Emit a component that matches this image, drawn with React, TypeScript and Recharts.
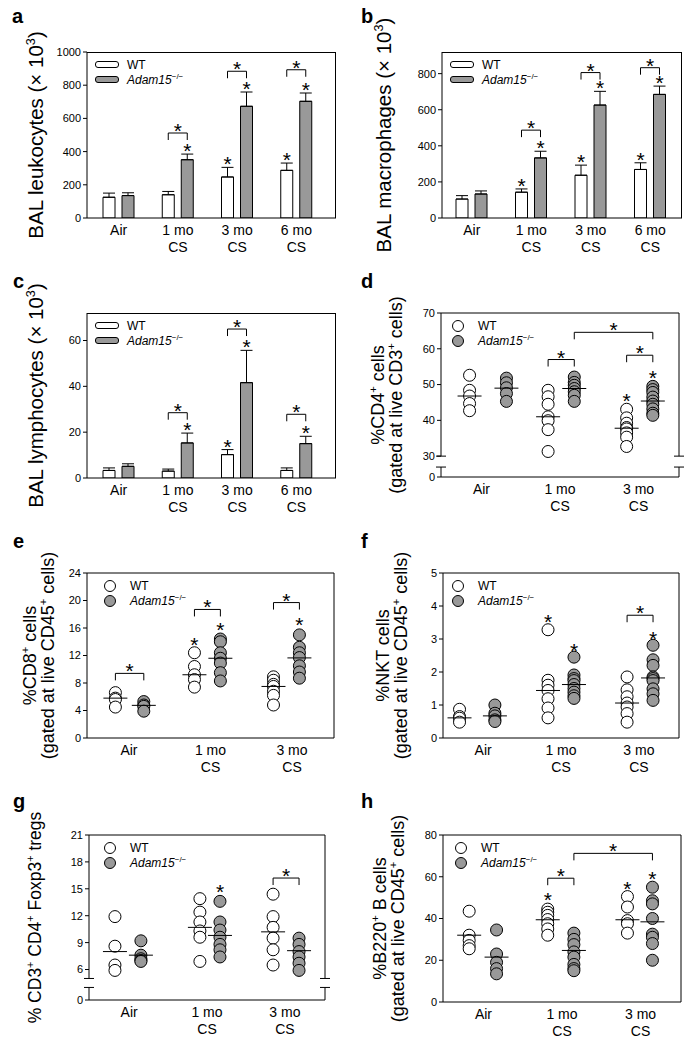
import React from 'react';
import {
  ComposedChart, Bar, ErrorBar, LabelList, Scatter,
  XAxis, YAxis, ReferenceLine, Legend,
} from 'recharts';

const FONT = 'Arial, "Liberation Sans", Helvetica, sans-serif';
const GREY = '#999999';

// ============ CATEGORIES ============
const barGroups = ['Air', '1 mo\nCS', '3 mo\nCS', '6 mo\nCS'];
const dotGroups = ['Air', '1 mo\nCS', '3 mo\nCS'];
const dotTicks = [17, 50, 83];

// ============ a: BAL leukocytes ============
const leukWT = [125, 140, 247, 287];
const leukWTErr = [25, 20, 58, 44];
const leukKO = [135, 351, 673, 703];
const leukKOErr = [17, 34, 86, 50];
const leukWTStar = [false, false, true, true];
const leukKOStar = [false, true, true, true];
const leukBracket = [null, 512, 884, 893];

// ============ b: BAL macrophages ============
const macWT = [105, 143, 237, 269];
const macWTErr = [19, 18, 56, 37];
const macKO = [133, 333, 626, 685];
const macKOErr = [17, 37, 76, 46];
const macWTStar = [false, true, true, true];
const macKOStar = [false, true, true, true];
const macBracket = [null, 487, 806, 833];

// ============ c: BAL lymphocytes ============
const lymWT = [3.3, 3.0, 10.2, 3.3];
const lymWTErr = [1.1, 0.9, 2.2, 1.1];
const lymKO = [5.1, 15.3, 41.6, 15.0];
const lymKOErr = [1.1, 4.3, 14.1, 3.2];
const lymWTStar = [false, false, true, false];
const lymKOStar = [false, true, true, true];
const lymBracket = [null, 28.5, 65, 27.8];

// ============ d: CD4 ============
const cd4WT = [[52.6, 48.4, 46.8, 44.7, 42.7], [48.4, 46.6, 44.5, 41.0, 39.9, 37.4, 31.3], [43.1, 40.7, 39.2, 38.0, 37.6, 36.5, 35.3, 32.7]];
const cd4KO = [[51.8, 50.5, 49.1, 47.5, 45.3], [52.1, 50.6, 49.8, 48.9, 48.0, 47.0, 45.3], [49.5, 48.6, 47.8, 46.5, 45.4, 44.5, 43.2, 42.0, 41.4]];
const cd4MeanWT = [46.8, 41.0, 37.8];
const cd4MeanKO = [49.0, 48.9, 45.4];
const cd4Stars = [{ s: 4, y: 46.8 }, { s: 5, y: 53.3 }];
const cd4Brackets = [{ a: 2, b: 3, y: 57 }, { a: 4, b: 5, y: 58.2 }, { a: 3, b: 5, y: 64.6 }];

// ============ e: CD8 ============
const cd8WT = [[6.6, 5.8, 5.6, 4.5], [12.4, 10.4, 9.2, 8.5, 7.4], [8.9, 8.4, 7.8, 7.5, 6.8, 6.2, 4.8]];
const cd8KO = [[5.3, 4.8, 4.6, 3.9], [14.4, 14.0, 12.4, 11.6, 10.9, 9.5, 8.3], [15.0, 13.2, 12.4, 11.7, 10.5, 9.6, 8.7]];
const cd8MeanWT = [5.8, 9.2, 7.5];
const cd8MeanKO = [4.75, 11.6, 11.65];
const cd8Stars = [{ s: 2, y: 14.2 }, { s: 3, y: 16.4 }, { s: 5, y: 17.1 }];
const cd8Brackets = [{ a: 0, b: 1, y: 9.4 }, { a: 2, b: 3, y: 18.7 }, { a: 4, b: 5, y: 19.7 }];

// ============ f: NKT ============
const nktWT = [[0.87, 0.65, 0.6, 0.48], [3.28, 1.75, 1.6, 1.44, 1.19, 0.91, 0.61], [1.85, 1.46, 1.25, 1.06, 0.94, 0.74, 0.48]];
const nktKO = [[1.0, 0.75, 0.67, 0.55, 0.5], [2.45, 1.91, 1.8, 1.74, 1.62, 1.5, 1.39, 1.28, 1.2], [2.81, 2.37, 2.2, 1.85, 1.8, 1.74, 1.49, 1.34, 1.14]];
const nktMeanWT = [0.61, 1.44, 1.06];
const nktMeanKO = [0.67, 1.62, 1.82];
const nktStars = [{ s: 2, y: 3.67 }, { s: 3, y: 2.79 }, { s: 5, y: 3.16 }];
const nktBrackets = [{ a: 4, b: 5, y: 3.72 }];

// ============ g: Tregs ============
const tregWT = [[11.9, 8.6, 6.5, 5.9], [13.9, 12.4, 11.3, 10.3, 9.6, 6.9], [14.4, 11.9, 10.7, 9.5, 8.2, 6.5]];
const tregKO = [[9.2, 7.6, 7.2, 7.0, 6.9], [13.6, 11.3, 10.4, 9.6, 8.8, 8.2, 7.4], [9.5, 8.8, 8.0, 7.4, 6.7, 5.9]];
const tregMeanWT = [8.0, 10.7, 10.2];
const tregMeanKO = [7.6, 9.8, 8.1];
const tregStars = [{ s: 3, y: 15.2 }];
const tregBrackets = [{ a: 4, b: 5, y: 16.2 }];

// ============ h: B220 B cells ============
const bWT = [[43.5, 32.0, 29.5, 27.0, 25.5], [44.5, 43.0, 41.5, 39.5, 37.5, 35.0, 32.0], [50.5, 45.5, 39.0, 37.5, 33.0]];
const bKO = [[34.5, 23.0, 19.0, 16.0, 13.5], [33.0, 30.0, 27.5, 24.0, 21.5, 18.0, 16.0, 15.0], [55.0, 48.5, 47.0, 40.0, 32.5, 31.0, 28.0, 20.0]];
const bMeanWT = [32.0, 39.4, 39.4];
const bMeanKO = [21.5, 24.7, 38.4];
const bStars = [{ s: 2, y: 51.3 }, { s: 4, y: 56.4 }, { s: 5, y: 61.2 }];
const bBrackets = [{ a: 2, b: 3, y: 59.3 }, { a: 3, b: 5, y: 71.2 }];

type Frame = { l: number; t: number; r: number; b: number };
const MT = 50; // space above / below the plot box inside each chart
const XH = 30; // x axis height (counted into the bottom offset)
const YW = 40; // y axis width
const BAR = 12;
const BAR_GAP = 7;

// ============ SMALL PIECES ============
function Star({ x, y }: { x: number; y: number }) {
  // y is the visual centre of the asterisk
  return <text x={x} y={y + 12} textAnchor="middle" fontSize={21} fontFamily={FONT} fill="#000">*</text>;
}

function Rich({ s, size }: { s: string; size: number }) {
  const parts = s.split(/\^(.)/);
  return (
    <>
      {parts.map((t, i) =>
        i % 2 ? (
          <tspan key={i} dy={-size * 0.4} fontSize={size * 0.62}>{t}</tspan>
        ) : (
          <tspan key={i} dy={i ? size * 0.4 : 0}>{t}</tspan>
        )
      )}
    </>
  );
}

function YTitle({ x, cy, lines, size }: { x: number; cy: number; lines: string[]; size: number }) {
  return (
    <g>
      {lines.map((ln, i) => {
        const lx = x + i * 18;
        return (
          <text key={i} x={lx} y={cy} transform={`rotate(-90 ${lx} ${cy})`} textAnchor="middle"
            fontSize={size} fontFamily={FONT} fill="#000">
            <Rich s={ln} size={size} />
          </text>
        );
      })}
    </g>
  );
}

function GroupTick(props: any) {
  const { x, y, payload, groups, ticks } = props;
  const idx = ticks ? ticks.indexOf(payload.value) : -1;
  const text: string = idx >= 0 ? groups[idx] : String(payload.value);
  return (
    <text x={x} y={y} textAnchor="middle" fontSize={14} fontFamily={FONT} fill="#000">
      {text.split('\n').map((ln, i) => (
        <tspan key={i} x={x} dy={17}>{ln}</tspan>
      ))}
    </text>
  );
}

function Key({ bars }: { bars: boolean }) {
  const row = (fill: string, label: React.ReactNode) => (
    <div style={{ display: 'flex', alignItems: 'center', height: 15 }}>
      {bars ? (
        <div style={{ width: 24, height: 7, boxSizing: 'border-box', border: '1px solid #000', borderRadius: 3, background: fill, marginRight: 8 }} />
      ) : (
        <div style={{ width: 12, height: 12, boxSizing: 'border-box', border: '1px solid #000', borderRadius: '50%', background: fill, marginRight: 14 }} />
      )}
      <span style={{ whiteSpace: 'nowrap' }}>{label}</span>
    </div>
  );
  return (
    <div style={{ fontFamily: FONT, fontSize: 12, color: '#000' }}>
      {row('#fff', 'WT')}
      {row(GREY, <><i>Adam15</i><sup style={{ fontSize: 8 }}>−/−</sup></>)}
    </div>
  );
}

function Letter({ ch, x, y }: { ch: string; x: number; y: number }) {
  return (
    <div style={{ position: 'absolute', left: x, top: y - 17, fontFamily: FONT, fontWeight: 'bold', fontSize: 20, lineHeight: '20px' }}>
      {ch}
    </div>
  );
}

// ============ BAR PANEL ============
type BarPanelProps = {
  px: number; frame: Frame; letter: [number, number]; ch: string;
  titleX: number; title: string[];
  yTicks: number[]; yMax: number;
  wt: number[]; wtErr: number[]; ko: number[]; koErr: number[];
  wtStar: boolean[]; koStar: boolean[]; bracket: (number | null)[];
  pad: [number, number]; keyX: number;
};

function BarPanel(p: BarPanelProps) {
  const top = p.frame.t - MT;
  const span = p.frame.b - p.frame.t;
  const rows = barGroups.map((cat, i) => ({
    cat, wt: p.wt[i], ko: p.ko[i], wtErr: [0, p.wtErr[i]], koErr: [0, p.koErr[i]],
  }));

  const wtMarks = (lp: any) => {
    const vb = lp.viewBox || lp;
    const i = lp.index;
    if (!p.wtStar[i]) return null;
    const per = vb.height / p.wt[i];
    return <Star x={vb.x + vb.width / 2} y={vb.y - p.wtErr[i] * per - 8} />;
  };

  const koMarks = (lp: any) => {
    const vb = lp.viewBox || lp;
    const i = lp.index;
    const per = vb.height / p.ko[i];
    const base = vb.y + vb.height;
    const cx = vb.x + vb.width / 2;
    const out: React.ReactNode[] = [];
    if (p.koStar[i]) out.push(<Star key="s" x={cx} y={vb.y - p.koErr[i] * per - 8} />);
    const b = p.bracket[i];
    if (b != null) {
      const by = base - b * per;
      const x0 = cx - (BAR + BAR_GAP);
      out.push(<path key="b" d={`M${x0},${by + 7}V${by}H${cx}V${by + 7}`} fill="none" stroke="#000" strokeWidth={1} />);
      out.push(<Star key="bs" x={(x0 + cx) / 2} y={by - 7} />);
    }
    return <g>{out}</g>;
  };

  return (
    <>
      <Letter ch={p.ch} x={p.letter[0]} y={p.letter[1]} />
      <div style={{ position: 'absolute', left: p.px, top }}>
        <ComposedChart
          width={348}
          height={span + 2 * MT}
          data={rows}
          barGap={BAR_GAP}
          margin={{ top: MT, bottom: MT - XH, left: p.frame.l - p.px - YW, right: p.px + 348 - p.frame.r }}
        >
          <XAxis
            dataKey="cat" type="category" interval={0} height={XH}
            tickLine={false} tickSize={0} tickMargin={0}
            axisLine={{ stroke: '#000' }}
            padding={{ left: p.pad[0], right: p.pad[1] }}
            tick={(tp: any) => <GroupTick {...tp} />}
          />
          <YAxis
            width={YW} type="number" domain={[0, p.yMax]} ticks={p.yTicks} interval={0}
            allowDataOverflow tickSize={4} tickMargin={2}
            axisLine={{ stroke: '#000' }} tickLine={{ stroke: '#000' }}
            tick={{ fontSize: 11, fill: '#000', fontFamily: FONT }}
            label={{ content: () => <YTitle x={p.titleX} cy={MT + span / 2} lines={p.title} size={20.5} /> }}
          />
          <Legend
            layout="vertical" align="center" verticalAlign="middle"
            wrapperStyle={{ left: p.keyX, top: MT + 12.5 - 7.5, width: 'auto' }}
            content={() => <Key bars />}
          />
          <Bar dataKey="wt" fill="#fff" stroke="#000" strokeWidth={1} barSize={BAR} isAnimationActive={false}>
            <ErrorBar dataKey="wtErr" width={6} stroke="#000" strokeWidth={1} direction="y" />
            <LabelList dataKey="wt" content={wtMarks} />
          </Bar>
          <Bar dataKey="ko" fill={GREY} stroke="#000" strokeWidth={1} barSize={BAR} isAnimationActive={false}>
            <ErrorBar dataKey="koErr" width={6} stroke="#000" strokeWidth={1} direction="y" />
            <LabelList dataKey="ko" content={koMarks} />
          </Bar>
        </ComposedChart>
      </div>
      {/* top and right sides of the plot box */}
      <div
        style={{
          position: 'absolute', left: p.frame.l, top: p.frame.t,
          width: p.frame.r - p.frame.l, height: p.frame.b - p.frame.t,
          boxSizing: 'border-box', borderTop: '1px solid #000', borderRight: '1px solid #000',
          pointerEvents: 'none',
        }}
      />
    </>
  );
}

// ============ DOT PANEL ============
type DotPanelProps = {
  px: number; frame: Frame; letter: [number, number]; ch: string;
  titleX: number; title: string[]; titleSize: number;
  yTicks: number[]; brk?: { at: number; gap: number; low: number };
  slots: number[];
  wt: number[][]; ko: number[][]; meanWT: number[]; meanKO: number[];
  stars: { s: number; y: number }[]; brackets: { a: number; b: number; y: number }[];
  keyX: number;
};

function DotPanel(p: DotPanelProps) {
  const top = p.frame.t - MT;
  const span = p.frame.b - p.frame.t;
  const width = p.frame.r - p.frame.l;
  const tf = (v: number) => (p.brk ? (v >= p.brk.at ? v - p.brk.at + p.brk.gap : (v * p.brk.gap) / p.brk.at) : v);
  const yTop = tf(p.yTicks[p.yTicks.length - 1]);
  const upp = yTop / span; // data units per pixel
  const xpp = 100 / width;

  const wtPts = p.wt.flatMap((vals, g) => vals.map((v) => ({ x: p.slots[2 * g], y: tf(v) })));
  const koPts = p.ko.flatMap((vals, g) => vals.map((v) => ({ x: p.slots[2 * g + 1], y: tf(v) })));
  const meanPts = [
    ...p.meanWT.map((m, g) => ({ x: p.slots[2 * g], y: tf(m) })),
    ...p.meanKO.map((m, g) => ({ x: p.slots[2 * g + 1], y: tf(m) })),
  ];
  const starPts = [
    ...p.stars.map((s) => ({ x: p.slots[s.s], y: tf(s.y) })),
    ...p.brackets.map((b) => ({ x: (p.slots[b.a] + p.slots[b.b]) / 2, y: tf(b.y) + 7 * upp })),
  ];

  const segs: { x: number; y: number }[][] = [];
  p.brackets.forEach((b) => {
    const yb = tf(b.y);
    const xa = p.slots[b.a];
    const xb = p.slots[b.b];
    segs.push([{ x: xa, y: yb }, { x: xb, y: yb }]);
    segs.push([{ x: xa, y: yb }, { x: xa, y: yb - 7 * upp }]);
    segs.push([{ x: xb, y: yb }, { x: xb, y: yb - 7 * upp }]);
  });
  if (p.brk) {
    const dx = 5 * xpp;
    [0, 100].forEach((xe) => {
      segs.push([{ x: xe, y: yTop }, { x: xe, y: p.brk!.gap }]);
      segs.push([{ x: xe, y: p.brk!.low }, { x: xe, y: 0 }]);
      segs.push([{ x: xe - dx, y: p.brk!.gap }, { x: xe + dx, y: p.brk!.gap }]);
      segs.push([{ x: xe - dx, y: p.brk!.low }, { x: xe + dx, y: p.brk!.low }]);
    });
  } else {
    segs.push([{ x: 100, y: 0 }, { x: 100, y: yTop }]);
  }
  segs.push([{ x: 0, y: yTop }, { x: 100, y: yTop }]);

  const tickVals = p.yTicks.map(tf);
  const fmt = (v: number) => {
    const i = tickVals.findIndex((t) => Math.abs(t - v) < 1e-6);
    return i >= 0 ? String(p.yTicks[i]) : '';
  };

  const dot = (fill: string) => (sp: any) => (
    <circle cx={sp.cx} cy={sp.cy} r={6} fill={fill} stroke="#000" strokeWidth={1} />
  );

  return (
    <>
      <Letter ch={p.ch} x={p.letter[0]} y={p.letter[1]} />
      <div style={{ position: 'absolute', left: p.px, top }}>
        <ComposedChart
          width={348}
          height={span + 2 * MT}
          margin={{ top: MT, bottom: MT - XH, left: p.frame.l - p.px - YW, right: p.px + 348 - p.frame.r }}
        >
          <XAxis
            dataKey="x" type="number" domain={[0, 100]} ticks={dotTicks} interval={0} allowDataOverflow height={XH}
            tickLine={false} tickSize={0} tickMargin={0}
            axisLine={{ stroke: '#000' }}
            tick={(tp: any) => <GroupTick {...tp} groups={dotGroups} ticks={dotTicks} />}
          />
          <YAxis
            dataKey="y" width={YW} type="number" domain={[0, yTop]} ticks={tickVals} interval={0}
            allowDataOverflow tickSize={4} tickMargin={2} tickFormatter={fmt}
            axisLine={p.brk ? false : { stroke: '#000' }} tickLine={{ stroke: '#000' }}
            tick={{ fontSize: 11, fill: '#000', fontFamily: FONT }}
            label={{ content: () => <YTitle x={p.titleX} cy={MT + span / 2} lines={p.title} size={p.titleSize} /> }}
          />
          {segs.map((sg, i) => (
            <ReferenceLine key={i} segment={sg} stroke="#000" strokeWidth={1} ifOverflow="visible" />
          ))}
          <Legend
            layout="vertical" align="center" verticalAlign="middle"
            wrapperStyle={{ left: p.keyX, top: MT + 12.5 - 7.5, width: 'auto' }}
            content={() => <Key bars={false} />}
          />
          <Scatter data={wtPts} dataKey="y" shape={dot('#fff')} isAnimationActive={false} />
          <Scatter data={koPts} dataKey="y" shape={dot(GREY)} isAnimationActive={false} />
          <Scatter
            data={meanPts} dataKey="y" isAnimationActive={false}
            shape={(sp: any) => <line x1={sp.cx - 12} x2={sp.cx + 12} y1={sp.cy} y2={sp.cy} stroke="#000" strokeWidth={1} />}
          />
          <Scatter data={starPts} dataKey="y" isAnimationActive={false} shape={(sp: any) => <Star x={sp.cx} y={sp.cy} />} />
        </ComposedChart>
      </div>
    </>
  );
}

// ============ APP ============
export default function App() {
  return (
    <div style={{ position: 'absolute', left: 0, top: 0, width: 696, height: 1050, background: '#fff', fontFamily: FONT }}>
      <BarPanel
        ch="a" letter={[12, 23]} px={0} frame={{ l: 87, t: 52, r: 336, b: 218 }}
        titleX={43} title={['BAL leukocytes (× 10^3)']}
        yTicks={[0, 200, 400, 600, 800, 1000]} yMax={1000}
        wt={leukWT} wtErr={leukWTErr} ko={leukKO} koErr={leukKOErr}
        wtStar={leukWTStar} koStar={leukKOStar} bracket={leukBracket}
        pad={[2, 10]} keyX={95}
      />
      <BarPanel
        ch="b" letter={[361, 23]} px={348} frame={{ l: 442, t: 52, r: 682, b: 218 }}
        titleX={43} title={['BAL macrophages (× 10^3)']}
        yTicks={[0, 200, 400, 600, 800]} yMax={920}
        wt={macWT} wtErr={macWTErr} ko={macKO} koErr={macKOErr}
        wtStar={macWTStar} koStar={macKOStar} bracket={macBracket}
        pad={[0, 2]} keyX={102}
      />
      <BarPanel
        ch="c" letter={[13, 288]} px={0} frame={{ l: 87, t: 313, r: 336, b: 478 }}
        titleX={43} title={['BAL lymphocytes (× 10^3)']}
        yTicks={[0, 20, 40, 60]} yMax={72}
        wt={lymWT} wtErr={lymWTErr} ko={lymKO} koErr={lymKOErr}
        wtStar={lymWTStar} koStar={lymKOStar} bracket={lymBracket}
        pad={[2, 10]} keyX={95}
      />
      <DotPanel
        ch="d" letter={[361, 288]} px={348} frame={{ l: 441, t: 313, r: 679, b: 477 }}
        titleX={36} title={['%CD4^+ cells', '(gated at live CD3^+ cells)']} titleSize={18}
        yTicks={[0, 30, 40, 50, 60, 70]} brk={{ at: 30, gap: 5.83, low: 2.78 }}
        slots={[12, 27.5, 45, 56, 78, 89]}
        wt={cd4WT} ko={cd4KO} meanWT={cd4MeanWT} meanKO={cd4MeanKO}
        stars={cd4Stars} brackets={cd4Brackets} keyX={104}
      />
      <DotPanel
        ch="e" letter={[13, 548]} px={0} frame={{ l: 87, t: 573, r: 334, b: 738 }}
        titleX={36} title={['%CD8^+ cells', '(gated at live CD45^+ cells)']} titleSize={18}
        yTicks={[0, 4, 8, 12, 16, 20, 24]}
        slots={[11.5, 23, 43.5, 54, 75.5, 86]}
        wt={cd8WT} ko={cd8KO} meanWT={cd8MeanWT} meanKO={cd8MeanKO}
        stars={cd8Stars} brackets={cd8Brackets} keyX={104}
      />
      <DotPanel
        ch="f" letter={[361, 548]} px={348} frame={{ l: 443, t: 573, r: 679, b: 738 }}
        titleX={41} title={['%NKT cells', '(gated at live CD45^+ cells)']} titleSize={18}
        yTicks={[0, 1, 2, 3, 4, 5]}
        slots={[7, 22, 44.5, 55.5, 78, 89]}
        wt={nktWT} ko={nktKO} meanWT={nktMeanWT} meanKO={nktMeanKO}
        stars={nktStars} brackets={nktBrackets} keyX={104}
      />
      <DotPanel
        ch="g" letter={[13, 808]} px={0} frame={{ l: 89, t: 835, r: 325, b: 1000 }}
        titleX={41} title={['% CD3^+ CD4^+ Foxp3^+ tregs']} titleSize={17.5}
        yTicks={[0, 6, 9, 12, 15, 18, 21]} brk={{ at: 5, gap: 2.4, low: 1.4 }}
        slots={[11, 22, 47, 55.5, 78, 89]}
        wt={tregWT} ko={tregKO} meanWT={tregMeanWT} meanKO={tregMeanKO}
        stars={tregStars} brackets={tregBrackets} keyX={104}
      />
      <DotPanel
        ch="h" letter={[361, 808]} px={348} frame={{ l: 443, t: 835, r: 681, b: 1002 }}
        titleX={38} title={['%B220^+ B cells', '(gated at live CD45^+ cells)']} titleSize={18}
        yTicks={[0, 20, 40, 60, 80]}
        slots={[11, 22.5, 44, 55, 77.5, 88]}
        wt={bWT} ko={bKO} meanWT={bMeanWT} meanKO={bMeanKO}
        stars={bStars} brackets={bBrackets} keyX={107}
      />
    </div>
  );
}
